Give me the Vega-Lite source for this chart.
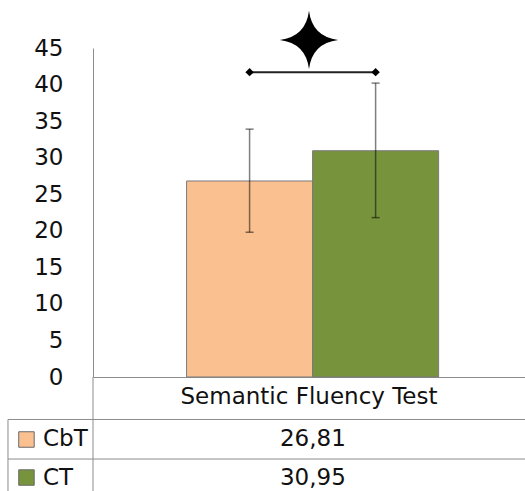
{
  "$schema": "https://vega.github.io/schema/vega-lite/v6.json",
  "width": 432,
  "height": 329,
  "autosize": {"type": "none"},
  "padding": {"left": 93, "top": 48, "right": 0, "bottom": 114},
  "background": "white",
  "config": {
    "view": {"stroke": null},
    "font": "DejaVu Sans",
    "text": {"font": "DejaVu Sans"},
    "axisY": {"tickCount": 9, "labelOverlap": false, "grid": false, "ticks": false, "domainColor": "#8c8c8c", "labelFontSize": 23, "labelColor": "#111", "labelPadding": 30, "labelFont": "DejaVu Sans"},
    "axisX": {"labelAngle": 0, "ticks": false, "grid": false, "domainColor": "#8c8c8c", "labelFontSize": 23, "labelColor": "#111", "labelPadding": 8, "labelFont": "DejaVu Sans", "labelLimit": 0}
  },
  "datasets": {
    "scores": [
      {"test": "Semantic Fluency Test", "group": "CbT", "mean": 26.81, "lo": 19.8, "hi": 33.9, "shown": "26,81"},
      {"test": "Semantic Fluency Test", "group": "CT", "mean": 30.95, "lo": 21.8, "hi": 40.2, "shown": "30,95"}
    ],
    "sig": [{"test": "Semantic Fluency Test", "mark": "significant"}]
  },
  "layer": [
    {
      "layer": [
        {
          "data": {"name": "scores"},
          "mark": {"type": "bar", "stroke": "#7a7a7a", "strokeWidth": 1},
          "encoding": {
            "x": {"field": "test", "type": "nominal", "title": null, "scale": {"paddingInner": 0, "paddingOuter": 0}},
            "xOffset": {"field": "group", "type": "nominal", "scale": {"domain": ["CbT", "CT"], "paddingInner": 0, "paddingOuter": 0.714, "align": 0.52}},
            "y": {"field": "mean", "type": "quantitative", "title": null, "scale": {"domain": [0, 45], "nice": false, "zero": true}},
            "y2": {"datum": 0},
            "color": {"field": "group", "type": "nominal", "scale": {"domain": ["CbT", "CT"], "range": ["#FAC090", "#77933C"]}, "legend": null}
          }
        },
        {
          "data": {"name": "scores"},
          "mark": {"type": "rule", "color": "#000000", "opacity": 0.5, "strokeWidth": 1.5},
          "encoding": {
            "x": {"field": "test", "type": "nominal", "title": null},
            "xOffset": {"field": "group", "type": "nominal"},
            "y": {"field": "lo", "type": "quantitative", "title": null, "scale": {"domain": [0, 45]}},
            "y2": {"field": "hi"}
          }
        },
        {
          "data": {"name": "scores"},
          "transform": [{"fold": ["lo", "hi"], "as": ["end", "v"]}],
          "mark": {"type": "tick", "orient": "horizontal", "size": 8, "thickness": 1.5, "color": "#000000", "opacity": 0.5},
          "encoding": {
            "x": {"field": "test", "type": "nominal", "title": null},
            "xOffset": {"field": "group", "type": "nominal"},
            "y": {"field": "v", "type": "quantitative", "title": null, "scale": {"domain": [0, 45]}}
          }
        },
        {
          "data": {"name": "scores"},
          "mark": {"type": "line", "color": "#222222", "strokeWidth": 2},
          "encoding": {
            "x": {"field": "test", "type": "nominal", "title": null},
            "xOffset": {"field": "group", "type": "nominal"},
            "y": {"datum": 41.7, "type": "quantitative", "scale": {"domain": [0, 45]}}
          }
        },
        {
          "data": {"name": "scores"},
          "mark": {"type": "point", "shape": "diamond", "size": 70, "filled": true, "color": "#000000", "opacity": 1},
          "encoding": {
            "x": {"field": "test", "type": "nominal", "title": null},
            "xOffset": {"field": "group", "type": "nominal"},
            "y": {"datum": 41.7, "type": "quantitative", "scale": {"domain": [0, 45]}}
          }
        },
        {
          "data": {"name": "sig"},
          "mark": {"type": "point", "shape": "M0,-1 Q0.11,-0.11 1,0 Q0.11,0.11 0,1 Q-0.11,0.11 -1,0 Q-0.11,-0.11 0,-1 Z", "size": 3400, "filled": true, "color": "#000000", "opacity": 1},
          "encoding": {
            "x": {"field": "test", "type": "nominal", "title": null},
            "y": {"datum": 46.1, "type": "quantitative", "scale": {"domain": [0, 45]}}
          }
        }
      ]
    },
    {
      "layer": [
        {
          "data": {"name": "sig"},
          "mark": {"type": "rule", "color": "#8c8c8c", "strokeWidth": 1},
          "encoding": {
            "x": {"datum": -0.1968, "type": "quantitative", "scale": {"domain": [0, 1], "nice": false, "zero": false}, "axis": null},
            "x2": {"datum": 1},
            "y": {"datum": -5.81, "type": "quantitative", "scale": {"domain": [0, 45]}}
          }
        },
        {
          "data": {"name": "sig"},
          "mark": {"type": "rule", "color": "#8c8c8c", "strokeWidth": 1},
          "encoding": {
            "x": {"datum": -0.1968, "type": "quantitative"},
            "x2": {"datum": 1},
            "y": {"datum": -11.22, "type": "quantitative", "scale": {"domain": [0, 45]}}
          }
        },
        {
          "data": {"name": "sig"},
          "mark": {"type": "rule", "color": "#8c8c8c", "strokeWidth": 1},
          "encoding": {
            "x": {"datum": 0, "type": "quantitative"},
            "y": {"datum": 0, "type": "quantitative", "scale": {"domain": [0, 45]}},
            "y2": {"datum": -16}
          }
        },
        {
          "data": {"name": "sig"},
          "mark": {"type": "rule", "color": "#8c8c8c", "strokeWidth": 1},
          "encoding": {
            "x": {"datum": -0.1968, "type": "quantitative"},
            "y": {"datum": -5.81, "type": "quantitative", "scale": {"domain": [0, 45]}},
            "y2": {"datum": -16}
          }
        },
        {
          "data": {"name": "scores"},
          "transform": [{"filter": "datum.group === 'CbT'"}],
          "mark": {"type": "point", "shape": "square", "size": 240, "filled": true, "stroke": "#6b6b6b", "strokeWidth": 1, "opacity": 1},
          "encoding": {
            "x": {"datum": -0.154, "type": "quantitative"},
            "y": {"datum": -8.55, "type": "quantitative", "scale": {"domain": [0, 45]}},
            "color": {"field": "group", "type": "nominal", "legend": null}
          }
        },
        {
          "data": {"name": "scores"},
          "transform": [{"filter": "datum.group === 'CT'"}],
          "mark": {"type": "point", "shape": "square", "size": 240, "filled": true, "stroke": "#6b6b6b", "strokeWidth": 1, "opacity": 1},
          "encoding": {
            "x": {"datum": -0.154, "type": "quantitative"},
            "y": {"datum": -13.75, "type": "quantitative", "scale": {"domain": [0, 45]}},
            "color": {"field": "group", "type": "nominal", "legend": null}
          }
        },
        {
          "data": {"name": "scores"},
          "transform": [{"filter": "datum.group === 'CbT'"}],
          "mark": {"type": "text", "align": "left", "baseline": "middle", "fontSize": 23, "color": "#111"},
          "encoding": {
            "x": {"datum": -0.1157, "type": "quantitative"},
            "y": {"datum": -8.48, "type": "quantitative", "scale": {"domain": [0, 45]}},
            "text": {"field": "group"}
          }
        },
        {
          "data": {"name": "scores"},
          "transform": [{"filter": "datum.group === 'CT'"}],
          "mark": {"type": "text", "align": "left", "baseline": "middle", "fontSize": 23, "color": "#111"},
          "encoding": {
            "x": {"datum": -0.1157, "type": "quantitative"},
            "y": {"datum": -13.75, "type": "quantitative", "scale": {"domain": [0, 45]}},
            "text": {"field": "group"}
          }
        },
        {
          "data": {"name": "scores"},
          "transform": [{"filter": "datum.group === 'CbT'"}],
          "mark": {"type": "text", "align": "center", "baseline": "middle", "fontSize": 23, "color": "#111"},
          "encoding": {
            "x": {"datum": 0.509, "type": "quantitative"},
            "y": {"datum": -8.48, "type": "quantitative", "scale": {"domain": [0, 45]}},
            "text": {"field": "shown"}
          }
        },
        {
          "data": {"name": "scores"},
          "transform": [{"filter": "datum.group === 'CT'"}],
          "mark": {"type": "text", "align": "center", "baseline": "middle", "fontSize": 23, "color": "#111"},
          "encoding": {
            "x": {"datum": 0.509, "type": "quantitative"},
            "y": {"datum": -13.75, "type": "quantitative", "scale": {"domain": [0, 45]}},
            "text": {"field": "shown"}
          }
        }
      ]
    }
  ],
  "resolve": {"scale": {"x": "independent"}}
}
